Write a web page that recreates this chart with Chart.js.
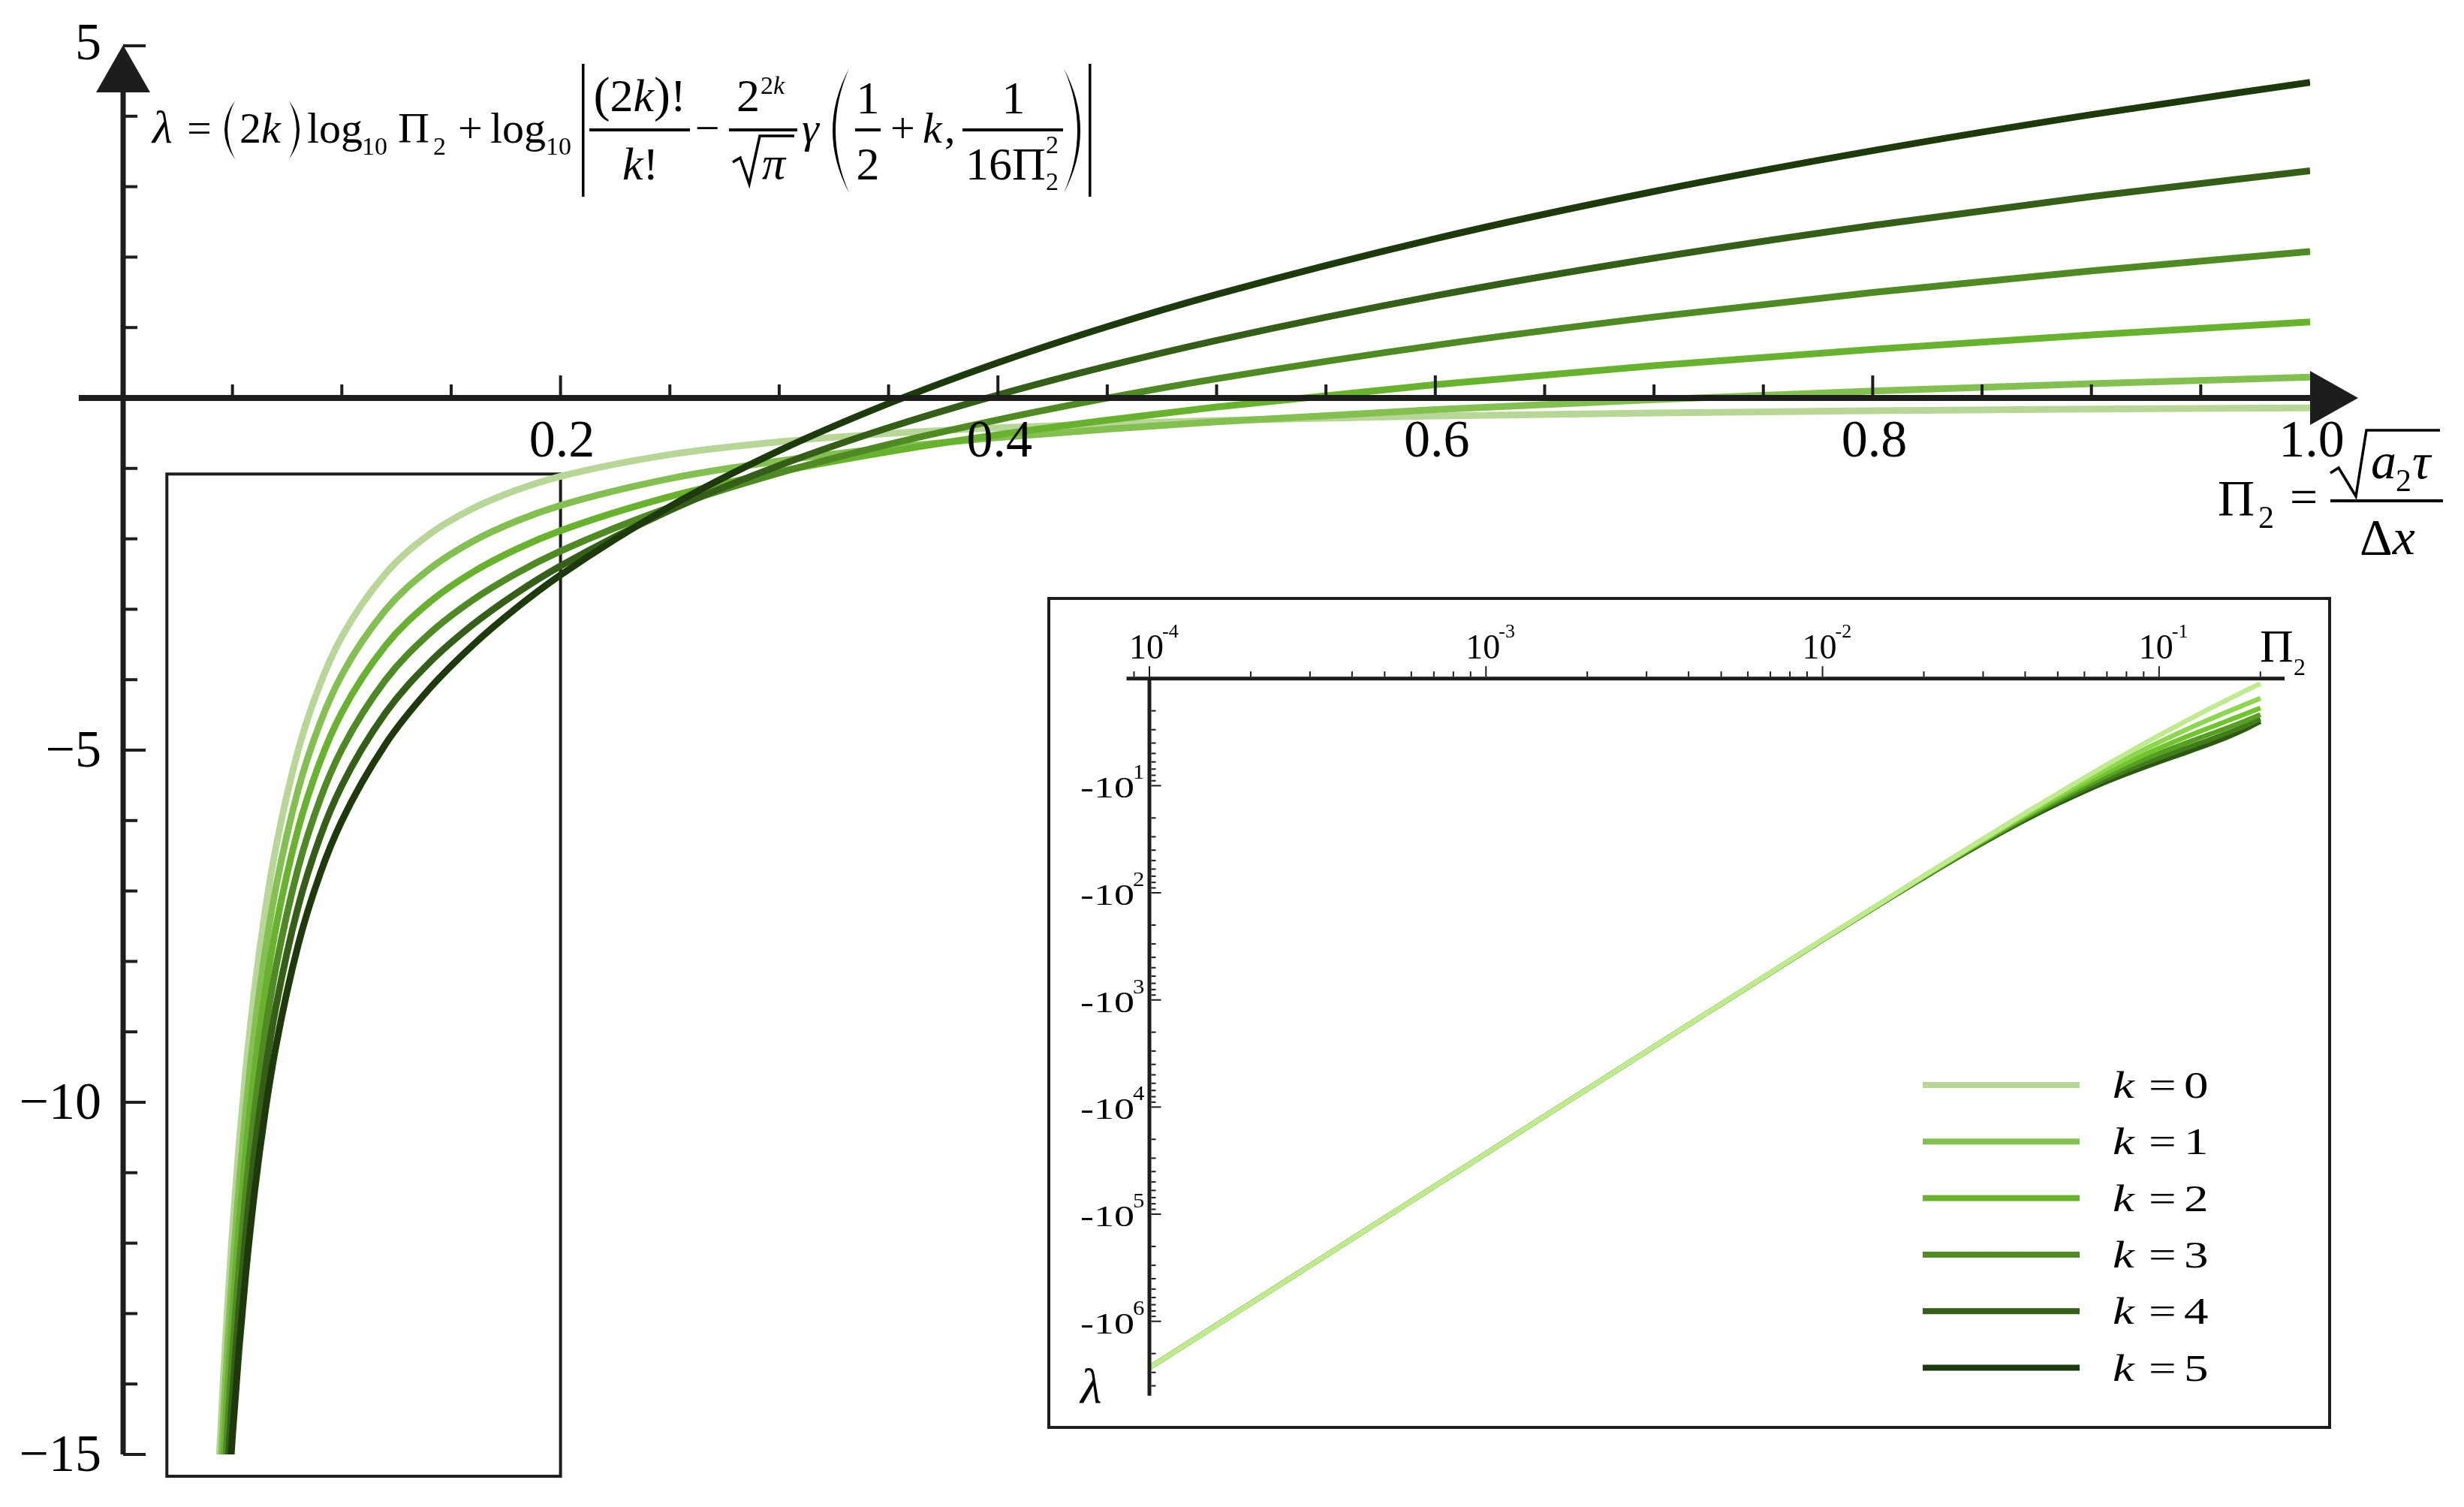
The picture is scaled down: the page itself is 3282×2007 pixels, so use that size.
<!DOCTYPE html>
<html lang="en">
<head>
<meta charset="UTF-8">
<title>lambda vs Pi2</title>
<style>
  html, body { margin: 0; padding: 0; background: #fff; overflow: hidden; }
  #wrap { position: relative; width: 3282px; height: 2007px; }
  #mainChart { position: absolute; left: 0; top: 0; }
  #insetChart { position: absolute; left: 1395px; top: 795px; }
</style>
</head>
<body>
<div id="wrap">
  <canvas id="mainChart" width="3282" height="2007"></canvas>
  <canvas id="insetChart" width="1710" height="1108"></canvas>
</div>

<script src="https://cdn.jsdelivr.net/npm/chart.js"></script>
<script>
    // main plot: Pi2 on a linear axis, lambda for k = 0..5
    const piMain = [0.042, 0.044, 0.046, 0.048, 0.05, 0.053, 0.056, 0.06, 0.065, 0.07, 0.08, 0.09, 0.1, 0.12, 0.14,
        0.16, 0.18, 0.2, 0.25, 0.3, 0.35, 0.4, 0.45, 0.5, 0.6, 0.7, 0.8, 0.9, 1.0];
    const lamK0 = [-16.417, -15.030, -13.819, -12.754, -11.813, -10.595, -9.564, -8.420, -7.272, -6.357, -5.005, -4.068, -3.390, -2.493, -1.937,
        -1.567, -1.305, -1.113, -0.803, -0.622, -0.505, -0.424, -0.364, -0.319, -0.255, -0.212, -0.181, -0.158, -0.140];
    const lamK1 = [-17.007, -15.619, -14.406, -13.341, -12.399, -11.178, -10.145, -8.998, -7.846, -6.927, -5.566, -4.620, -3.932, -3.011, -2.431,
        -2.034, -1.746, -1.526, -1.145, -0.895, -0.710, -0.563, -0.442, -0.338, -0.165, -0.023, 0.098, 0.203, 0.296];
    const lamK2 = [-17.597, -16.208, -14.994, -13.927, -12.983, -11.760, -10.726, -9.575, -8.419, -7.495, -6.124, -5.166, -4.465, -3.516, -2.903,
        -2.471, -2.144, -1.884, -1.400, -1.046, -0.762, -0.522, -0.314, -0.128, 0.190, 0.459, 0.691, 0.896, 1.079];
    const lamK3 = [-18.186, -16.796, -15.581, -14.512, -13.567, -12.342, -11.305, -10.151, -8.990, -8.061, -6.678, -5.706, -4.990, -4.004, -3.348,
        -2.867, -2.488, -2.174, -1.551, -1.064, -0.659, -0.310, -0.002, 0.273, 0.748, 1.150, 1.498, 1.805, 2.079];
    const lamK4 = [-18.775, -17.384, -16.167, -15.097, -14.151, -12.923, -11.883, -10.725, -9.559, -8.624, -7.227, -6.239, -5.504, -4.472, -3.760,
        -3.215, -2.768, -2.385, -1.595, -0.959, -0.422, 0.042, 0.451, 0.817, 1.451, 1.986, 2.450, 2.859, 3.225];
    const lamK5 = [-19.364, -17.971, -16.753, -15.681, -14.733, -13.503, -12.460, -11.298, -10.126, -9.184, -7.771, -6.763, -6.005, -4.914, -4.130,
        -3.507, -2.978, -2.514, -1.541, -0.748, -0.079, 0.501, 1.013, 1.470, 2.262, 2.932, 3.511, 4.023, 4.481];

    // inset: same curves on log-log axes (lambda is negative)
    const piInset = [1e-4, 3e-4, 1e-3, 3e-3, 0.01, 0.02, 0.03, 0.04, 0.05, 0.06, 0.07, 0.08, 0.09, 0.1, 0.12, 0.14, 0.16, 0.18, 0.2];
    const insK0 = [-2714341, -301596, -27146, -3018.1, -273.08, -69.205, -31.332, -18.014, -11.813, -8.420, -6.357, -5.005, -4.068, -3.390, -2.493, -1.937, -1.567, -1.305, -1.113];
    const insK1 = [-2714342, -301597, -27147, -3018.7, -273.68, -69.805, -31.928, -18.606, -12.399, -8.998, -6.927, -5.566, -4.620, -3.932, -3.011, -2.431, -2.034, -1.746, -1.526];
    const insK2 = [-2714342, -301597, -27147, -3019.3, -274.28, -70.404, -32.524, -19.197, -12.983, -9.575, -7.495, -6.124, -5.166, -4.465, -3.516, -2.903, -2.471, -2.144, -1.884];
    const insK3 = [-2714343, -301598, -27148, -3019.9, -274.88, -71.003, -33.119, -19.787, -13.567, -10.151, -8.061, -6.678, -5.706, -4.990, -4.004, -3.348, -2.867, -2.488, -2.174];
    const insK4 = [-2714343, -301599, -27148, -3020.5, -275.48, -71.602, -33.715, -20.378, -14.151, -10.725, -8.624, -7.227, -6.239, -5.504, -4.472, -3.760, -3.215, -2.768, -2.385];
    const insK5 = [-2714344, -301599, -27149, -3021.1, -276.07, -72.200, -34.310, -20.968, -14.733, -11.298, -9.184, -7.771, -6.763, -6.005, -4.914, -4.130, -3.507, -2.978, -2.514];

    const kValues = [0, 1, 2, 3, 4, 5];
    const xTickValues = [0.2, 0.4, 0.6, 0.8, 1.0];
    const xTickLabels = ['0.2', '0.4', '0.6', '0.8', '1.0'];
    const yTickValues = [5, -5, -10, -15];
    const yTickLabels = ['5', '\u22125', '\u221210', '\u221215'];
    const insetXExp = [-4, -3, -2, -1];
    const insetYExp = [1, 2, 3, 4, 5, 6];

    const mainColors = ['#b8d698', '#84bf52', '#69b22f', '#4f8a24', '#355f19', '#1e3a0c'];
    const insetColors = ['#bfea8e', '#8fd650', '#70c52c', '#569f24', '#427b1c', '#2d5812'];
    const axisColor = '#1d1d1b';
    const zoomBoxX = [0.02, 0.2];
    const zoomBoxY = [-15.31, -1.08];

    const mainSeries = [lamK0, lamK1, lamK2, lamK3, lamK4, lamK5];
    const insetSeries = [insK0, insK1, insK2, insK3, insK4, insK5];

    const FONT = '"Liberation Serif", "DejaVu Serif", serif';

    function txt(ctx, s, x, y, size, o) {
        o = o || {};
        ctx.save();
        ctx.font = (o.i ? 'italic ' : '') + size + 'px ' + FONT;
        ctx.textAlign = o.a || 'left';
        ctx.textBaseline = 'alphabetic';
        ctx.fillStyle = '#000';
        ctx.translate(x, y);
        if (o.sx) ctx.scale(o.sx, 1);
        ctx.fillText(s, 0, 0);
        ctx.restore();
    }

    // parts: [text, size, italic]
    function runs(ctx, parts, x, y, align) {
        let w = 0;
        const ws = parts.map(p => {
            ctx.font = (p[2] ? 'italic ' : '') + p[1] + 'px ' + FONT;
            const m = ctx.measureText(p[0]).width;
            w += m;
            return m;
        });
        let cx = align === 'center' ? x - w / 2 : x;
        parts.forEach((p, i) => {
            txt(ctx, p[0], cx, y, p[1], { i: p[2] });
            cx += ws[i];
        });
    }

    // tall thin bracket drawn as a crescent
    function paren(ctx, cx, top, bot, open) {
        const mid = (top + bot) / 2;
        const w = Math.min(22, Math.max(14, (bot - top) * 0.14));
        const th = 4;
        const dir = open ? 1 : -1;
        const end = cx + dir * w / 2;
        const c1 = cx - dir * 1.5 * w;
        const c2 = c1 + dir * 2 * th;
        ctx.save();
        ctx.fillStyle = '#000';
        ctx.beginPath();
        ctx.moveTo(end, top);
        ctx.quadraticCurveTo(c1, mid, end, bot);
        ctx.quadraticCurveTo(c2, mid, end, top);
        ctx.fill();
        ctx.restore();
    }

    function radical(ctx, pts, lw) {
        ctx.save();
        ctx.strokeStyle = '#000';
        ctx.lineWidth = lw;
        ctx.lineJoin = 'miter';
        ctx.beginPath();
        ctx.moveTo(pts[0][0], pts[0][1]);
        for (let i = 1; i < pts.length; i++) ctx.lineTo(pts[i][0], pts[i][1]);
        ctx.stroke();
        ctx.restore();
    }

    function drawFormula(ctx) {
        const F = 58, G = 62, S = 34;
        txt(ctx, '\u03bb', 203, 190, F + 4, { i: 1 });
        txt(ctx, '=', 249, 190, F);
        paren(ctx, 306, 134, 212, true);
        txt(ctx, '2', 319, 190, F);
        txt(ctx, 'k', 348, 190, F, { i: 1 });
        paren(ctx, 392, 134, 212, false);
        txt(ctx, 'log', 409, 190, F);
        txt(ctx, '10', 482, 206, S);
        txt(ctx, '\u03a0', 530, 190, F);
        txt(ctx, '2', 577, 206, S);
        txt(ctx, '+', 610, 190, F);
        txt(ctx, 'log', 653, 190, F);
        txt(ctx, '10', 727, 206, S);

        ctx.fillStyle = '#000';
        ctx.fillRect(775, 85, 3.5, 177);
        ctx.fillRect(1450, 85, 3.5, 177);

        ctx.fillRect(785, 171, 134, 4);
        runs(ctx, [['(', G + 4], ['2', G], ['k', G, 1], [')', G + 4], ['!', G]], 852, 148, 'center');
        runs(ctx, [['k', G, 1], ['!', G]], 853, 239, 'center');
        txt(ctx, '\u2212', 942, 190, F, { a: 'center' });

        ctx.fillStyle = '#000';
        ctx.fillRect(971, 171, 91, 4);
        txt(ctx, '2', 981, 148, G);
        runs(ctx, [['2', S], ['k', S, 1]], 1013, 125);
        radical(ctx, [[976, 216], [986, 210], [998, 245], [1012, 181], [1058, 181]], 3.5);
        txt(ctx, '\u03c0', 1015, 238, G, { i: 1 });
        txt(ctx, '\u03b3', 1068, 190, F, { i: 1 });

        paren(ctx, 1120, 91, 257, true);
        ctx.fillStyle = '#000';
        ctx.fillRect(1139, 171, 34, 4);
        txt(ctx, '1', 1156, 151, G, { a: 'center' });
        txt(ctx, '2', 1156, 239, G, { a: 'center' });
        txt(ctx, '+', 1186, 190, F);
        txt(ctx, 'k', 1229, 190, F, { i: 1 });
        txt(ctx, ',', 1258, 190, F);
        ctx.fillStyle = '#000';
        ctx.fillRect(1282, 171, 134, 4);
        txt(ctx, '1', 1350, 151, G, { a: 'center' });
        txt(ctx, '16\u03a0', 1286, 239, G);
        txt(ctx, '2', 1393, 204, S);
        txt(ctx, '2', 1393, 253, S);
        paren(ctx, 1428, 91, 257, false);
    }

    function drawXTitle(ctx) {
        txt(ctx, '\u03a0', 2954, 686, 68);
        txt(ctx, '2', 3008, 703, 42);
        txt(ctx, '=', 3050, 684, 66);
        ctx.fillStyle = '#000';
        ctx.fillRect(3104, 665, 150, 4);
        radical(ctx, [[3104, 630], [3115, 623], [3138, 661], [3152, 573], [3250, 573]], 3.5);
        txt(ctx, 'a', 3158, 637, 68, { i: 1 });
        txt(ctx, '2', 3191, 654, 42);
        txt(ctx, '\u03c4', 3213, 637, 68, { i: 1 });
        runs(ctx, [['\u0394', 68], ['x', 68, 1]], 3180, 738, 'center');
    }

    const mainDecor = {
        id: 'mainDecor',
        beforeDraw(chart) {
            const { ctx, width, height } = chart;
            ctx.save();
            ctx.fillStyle = '#fff';
            ctx.fillRect(0, 0, width, height);
            ctx.restore();
        },
        beforeDatasetsDraw(chart) {
            const { ctx, scales: { x, y } } = chart;
            const l = x.getPixelForValue(zoomBoxX[0]), r = x.getPixelForValue(zoomBoxX[1]);
            const t = y.getPixelForValue(zoomBoxY[1]), b = y.getPixelForValue(zoomBoxY[0]);
            ctx.save();
            ctx.strokeStyle = axisColor;
            ctx.lineWidth = 4;
            ctx.strokeRect(l, t, r - l, b - t);
            ctx.restore();
        },
        afterDatasetsDraw(chart) {
            const { ctx, scales: { x, y } } = chart;
            const x0 = x.getPixelForValue(0), y0 = y.getPixelForValue(0);
            const xEnd = x.getPixelForValue(1), xStart = x.getPixelForValue(-0.0203);
            const yTop = y.getPixelForValue(5), yBot = y.getPixelForValue(-15);
            ctx.save();
            ctx.fillStyle = axisColor;
            // x axis with arrow
            ctx.fillRect(xStart, y0 - 4, xEnd - xStart + 2, 8);
            ctx.beginPath();
            ctx.moveTo(xEnd, y0 - 36);
            ctx.lineTo(xEnd + 64, y0);
            ctx.lineTo(xEnd, y0 + 36);
            ctx.closePath();
            ctx.fill();
            // y axis with arrow
            ctx.fillRect(x0 - 3.5, yTop + 60, 7, yBot - yTop - 60);
            ctx.beginPath();
            ctx.moveTo(x0 - 36, yTop + 62);
            ctx.lineTo(x0, yTop - 1);
            ctx.lineTo(x0 + 36, yTop + 62);
            ctx.closePath();
            ctx.fill();
            // x ticks, every 0.05
            for (let i = 1; i < 20; i++) {
                const px = x.getPixelForValue(i * 0.05);
                const len = i % 4 === 0 ? 30 : 18;
                ctx.fillRect(px - 2, y0 - len, 4, len);
            }
            // y ticks, every 1
            for (let v = -15; v <= 5; v++) {
                if (v === 0) continue;
                const py = y.getPixelForValue(v);
                const len = v % 5 === 0 ? 30 : 19;
                ctx.fillRect(x0, py - 2, len, 4);
            }
            ctx.restore();

            xTickValues.forEach((v, i) => {
                txt(ctx, xTickLabels[i], x.getPixelForValue(v) + 2, 608, 70, { a: 'center' });
            });
            yTickValues.forEach((v, i) => {
                const py = y.getPixelForValue(v);
                txt(ctx, yTickLabels[i], 135, py + (v === 5 ? 18 : 22), 70, { a: 'right' });
            });

            drawFormula(ctx);
            drawXTitle(ctx);
        }
    };

    const mainChart = new Chart(document.getElementById('mainChart'), {
        type: 'line',
        data: {
            datasets: kValues.map((k, i) => ({
                label: 'k = ' + k,
                data: piMain.map((p, j) => ({ x: p, y: mainSeries[i][j] })),
                borderColor: mainColors[i],
                borderWidth: 9,
                pointRadius: 0,
                fill: false,
                cubicInterpolationMode: 'monotone',
                order: 5 - i
            }))
        },
        options: {
            responsive: false,
            animation: false,
            layout: { padding: { left: 164, top: 61, right: 205, bottom: 70 } },
            scales: {
                x: { type: 'linear', min: 0, max: 1, display: false },
                y: { type: 'linear', min: -15, max: 5, display: false }
            },
            plugins: { legend: { display: false }, tooltip: { enabled: false } }
        },
        plugins: [mainDecor]
    });

    const insetDecor = {
        id: 'insetDecor',
        beforeDraw(chart) {
            const { ctx, width, height } = chart;
            ctx.save();
            ctx.fillStyle = '#fff';
            ctx.fillRect(0, 0, width, height);
            ctx.restore();
        },
        afterDatasetsDraw(chart) {
            const { ctx, chartArea: ca, scales: { x, y } } = chart;
            const yT = y.getPixelForValue(1), xL = x.getPixelForValue(1e-4);
            ctx.save();
            ctx.fillStyle = axisColor;
            ctx.strokeStyle = axisColor;
            ctx.lineWidth = 4;
            ctx.strokeRect(2, 2, chart.width - 4, chart.height - 4);
            ctx.fillRect(ca.left, yT - 2.5, ca.right - ca.left, 5);
            ctx.fillRect(xL - 2.5, yT, 5, ca.bottom - yT);
            for (let e = -5; e <= -1; e++) {
                for (let m = 1; m <= 9; m++) {
                    const v = m * Math.pow(10, e);
                    if (v < x.min || v > x.max) continue;
                    const px = x.getPixelForValue(v), len = m === 1 ? 14 : 7;
                    ctx.fillRect(px - 1, yT - 2.5 - len, 2, len);
                }
            }
            for (let e = 0; e <= 6; e++) {
                for (let m = 1; m <= 9; m++) {
                    const v = m * Math.pow(10, e);
                    if (v <= 1 || v > y.max) continue;
                    const py = y.getPixelForValue(v), len = m === 1 ? 13 : 6;
                    ctx.fillRect(xL + 2.5, py - 1, len, 2);
                }
            }
            ctx.restore();

            insetXExp.forEach(e => {
                const px = x.getPixelForValue(Math.pow(10, e));
                txt(ctx, '10', px - 4, yT - 27, 46, { a: 'center' });
                txt(ctx, '-' + Math.abs(e), px + 17, yT - 55, 26);
            });
            insetYExp.forEach(e => {
                const py = y.getPixelForValue(Math.pow(10, e));
                txt(ctx, '-10', xL - 20, py + 16, 40, { a: 'right', sx: 1.35 });
                txt(ctx, String(e), xL - 22, py - 9, 28, { sx: 1.1 });
            });
            txt(ctx, '\u03a0', 1615, 86, 62);
            txt(ctx, '2', 1660, 104, 32);
            txt(ctx, '\u03bb', 44, 1073, 66, { i: 1 });

            // legend
            kValues.forEach((k, i) => {
                const ly = 650 + i * 75.3;
                ctx.save();
                ctx.fillStyle = mainColors[i];
                ctx.fillRect(1166, ly - 4, 209, 8);
                ctx.restore();
                txt(ctx, 'k', 1419, ly + 17, 50, { i: 1, sx: 1.3 });
                txt(ctx, '=', 1467, ly + 17, 50, { sx: 1.3 });
                txt(ctx, String(k), 1514, ly + 17, 50, { sx: 1.3 });
            });
        }
    };

    const insetChart = new Chart(document.getElementById('insetChart'), {
        type: 'line',
        data: {
            datasets: kValues.map((k, i) => ({
                label: 'k = ' + k,
                data: piInset.map((p, j) => ({ x: p, y: -insetSeries[i][j] })),
                borderColor: insetColors[i],
                borderWidth: 6.5,
                pointRadius: 0,
                fill: false,
                cubicInterpolationMode: 'monotone'
            }))
        },
        options: {
            responsive: false,
            animation: false,
            layout: { padding: { left: 105.5, top: 108.7, right: 62, bottom: 44.2 } },
            scales: {
                x: { type: 'logarithmic', min: 8.55e-5, max: 0.236, display: false },
                y: { type: 'logarithmic', reverse: true, min: 1, max: 4.95e6, display: false }
            },
            plugins: { legend: { display: false }, tooltip: { enabled: false } }
        },
        plugins: [insetDecor]
    });
</script>
</body>
</html>
